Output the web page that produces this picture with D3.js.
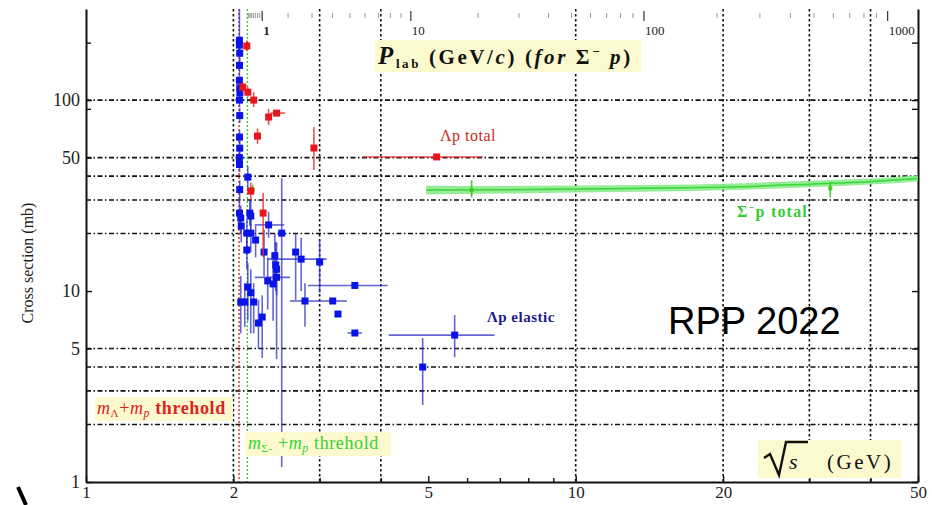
<!DOCTYPE html>
<html>
<head>
<meta charset="utf-8">
<script src="https://cdn.jsdelivr.net/npm/d3@7"></script>
<style>
  body { margin: 0; background: #fff; }
  svg { display: block; font-family: "Liberation Serif", "DejaVu Serif", serif; }
</style>
</head>
<body>
<div id="chart"></div>
<script>
// masses (GeV) for the top P_lab axis and thresholds
const massSigma = 1.1974, massProton = 0.9383, massLambda = 1.1157;

// bottom axis (sqrt s) and left axis (mb)
const sqrtSTicks = [1, 2, 5, 10, 20, 50];
const sqrtSMinor = [3, 4, 6, 7, 8, 9, 30, 40];
const sigmaTicks = [1, 5, 10, 50, 100];
const sigmaMinor = [90, 200];
const gridSqrtS = [2, 3, 4, 10, 20, 30, 40];
const gridSigma = [2, 3, 4, 5, 20, 30, 40, 50, 100];
const plabMajor = [1, 10, 100, 1000];
const plabMinor = [0.2, 0.3, 0.4, 0.5, 0.6, 0.7, 0.8, 0.9, 2, 3, 4, 5, 6, 7, 8, 9,
  20, 30, 40, 50, 60, 70, 80, 90, 200, 300, 400, 500, 600, 700, 800, 900];

// [sqrt s, sigma, sigma low, sigma high, sqrt s low, sqrt s high]
const lambdaElastic = [
  [2.057, 206, 180, 300], [2.057, 194, 175, 215], [2.060, 176, 160, 195],
  [2.058, 152, 140, 165], [2.057, 127, 115, 140], [2.060, 116, 106, 127],
  [2.062, 109, 100, 118], [2.058, 100, 92, 110], [2.060, 83, 76, 91],
  [2.058, 64, 59, 70], [2.060, 56, 52, 61], [2.057, 50, 46, 54],
  [2.058, 46, 42, 50], [2.060, 34, 30, 38], [2.058, 25.6, 22, 30],
  [2.07, 24.1, 20, 28], [2.075, 21.9, 18, 26], [2.14, 39.5, 34, 45],
  [2.16, 25.6, 22, 30], [2.17, 24.7, 21, 30], [2.17, 20.1, 16, 24],
  [2.13, 20.1, 17, 24], [2.22, 18.5, 15, 22], [2.13, 16.4, 13, 20],
  [2.31, 16.0, 12, 21], [2.36, 22.2, 19, 26, 2.21, 2.54], [2.51, 20.1, 1.2, 39],
  [2.43, 15.3, 11, 20], [2.45, 13.0, 4.4, 18], [2.44, 13.7, 10, 18],
  [2.45, 11.8, 9.5, 14, 2.21, 2.61], [2.35, 11.3, 8, 15], [2.41, 10.9, 7, 16],
  [2.68, 16.0, 9, 20], [2.75, 14.7, 10, 19, 2.35, 3.10], [3.00, 14.2, 9.8, 18.5],
  [3.54, 10.7, null, null, 2.84, 4.13], [2.80, 8.87, 6.5, 11, 2.61, 3.0],
  [3.19, 8.87, null, null, 3.0, 3.41], [3.27, 7.58], [3.54, 6.03, null, null, 3.42, 3.66],
  [2.14, 10.5, 7, 14], [2.17, 9.8, 6, 13], [2.11, 8.76, 6.5, 11],
  [2.07, 8.76, 6, 12], [2.20, 8.76, 6, 11], [2.29, 7.31, 4.46, 9.5],
  [2.25, 6.80, 5, 9], [5.66, 5.88, 4.51, 7.49, 4.15, 6.83], [4.87, 4.0, 2.53, 5.67]
];

const lambdaTotal = [
  [2.13, 192, 180, 205], [2.09, 117, 110, 124], [2.14, 110, 104, 117],
  [2.20, 100, 92, 110], [2.36, 81.5, 74, 90], [2.45, 85.5, 83, 88, 2.38, 2.55],
  [2.24, 64.8, 59, 71], [2.92, 56.1, 43, 72.2], [2.17, 33.4, 30, 37],
  [2.30, 25.6, 15.1, 32.6], [5.20, 50.4, null, null, 3.68, 6.46]
];

// Sigma- p total: band from fits, plus a few points
const sigmaBandS = [4.95, 7, 10, 15, 20, 30, 40, 50];
const sigmaBandMid = [33.8, 33.9, 34.2, 34.6, 35.0, 36.3, 37.4, 38.8];
const sigmaBandLo = [32.0, 32.4, 32.8, 33.2, 33.7, 35.0, 36.1, 37.5];
const sigmaBandHi = [35.6, 35.5, 35.7, 36.0, 36.5, 37.8, 38.9, 40.4];
const sigmaTotal = [[2.19, 34, 32, 36], [6.13, 33.8, 31, 38], [33.1, 34.5, 31, 37.2]];

const width = 932, height = 505;

let x = d3.scaleLog().domain([1, 50]).range([86, 918]);
let y = d3.scaleLog().domain([1, 300]).range([482, 9]);

function plabToSqrtS(p) {
  let e = Math.sqrt(p * p + massSigma * massSigma);
  return Math.sqrt(massSigma * massSigma + massProton * massProton + 2 * massProton * e);
}

let svg = d3.select("#chart").append("svg")
  .attr("width", width)
  .attr("height", height);

svg.append("rect").attr("width", width).attr("height", height).attr("fill", "#fff");

/* Сетка */
svg.append("g").selectAll("line")
  .data(gridSqrtS)
  .enter().append("line")
  .attr("x1", d => x(d)).attr("x2", d => x(d))
  .attr("y1", y(300)).attr("y2", y(1))
  .attr("stroke", "#111").attr("stroke-width", 1.6)
  .attr("stroke-dasharray", "2.5,2.5");

svg.append("g").selectAll("line")
  .data(gridSigma)
  .enter().append("line")
  .attr("x1", x(1)).attr("x2", x(50))
  .attr("y1", d => y(d)).attr("y2", d => y(d))
  .attr("stroke", "#111").attr("stroke-width", 1.6)
  .attr("stroke-dasharray", "5,2.5,1.5,2.5");

// thresholds
let thresholds = [
  { v: massLambda + massProton, c: "#e03030" },
  { v: massSigma + massProton, c: "#30d030" }
];
svg.append("g").selectAll("line")
  .data(thresholds)
  .enter().append("line")
  .attr("x1", d => x(d.v)).attr("x2", d => x(d.v))
  .attr("y1", y(300)).attr("y2", y(1))
  .attr("stroke", d => d.c).attr("stroke-width", 1.4)
  .attr("stroke-dasharray", "2,2");

/* Оси */
let bottomAxis = d3.axisBottom(x)
  .tickValues(sqrtSTicks)
  .tickFormat(d3.format("d"))
  .tickSizeInner(-6).tickSizeOuter(0).tickPadding(4);
let gb = svg.append("g").attr("transform", "translate(0," + y(1) + ")").call(bottomAxis);
gb.selectAll("text").attr("font-size", 17).style("font-family", "Liberation Serif").attr("fill", "#222");

svg.append("g").attr("transform", "translate(0," + y(1) + ")")
  .call(d3.axisBottom(x).tickValues(sqrtSMinor).tickFormat("").tickSizeInner(-4).tickSizeOuter(0))
  .select(".domain").remove();

let leftAxis = d3.axisLeft(y)
  .tickValues(sigmaTicks)
  .tickFormat(d3.format("d"))
  .tickSizeInner(-6).tickSizeOuter(0).tickPadding(6);
let gl = svg.append("g").attr("transform", "translate(" + x(1) + ",0)").call(leftAxis);
gl.selectAll("text").attr("font-size", 18).style("font-family", "Liberation Serif").attr("fill", "#222");

svg.append("g").attr("transform", "translate(" + x(1) + ",0)")
  .call(d3.axisLeft(y).tickValues(sigmaMinor).tickFormat("").tickSizeInner(-5).tickSizeOuter(0))
  .select(".domain").remove();

svg.append("g").attr("transform", "translate(" + x(50) + ",0)")
  .call(d3.axisRight(y).tickValues(sigmaTicks.concat(sigmaMinor)).tickFormat("").tickSizeInner(-6).tickSizeOuter(0));

svg.selectAll(".domain").attr("stroke", "#111").attr("stroke-width", 2);
svg.selectAll(".tick line").attr("stroke", "#111").attr("stroke-width", 1.4);

// top axis: P_lab for Sigma- p
let topY = y(300);
svg.append("g").selectAll("line")
  .data(plabMinor)
  .enter().append("line")
  .attr("x1", d => x(plabToSqrtS(d))).attr("x2", d => x(plabToSqrtS(d)))
  .attr("y1", topY + 4).attr("y2", topY + 9)
  .attr("stroke", "#999").attr("stroke-width", 1);
svg.append("g").selectAll("line")
  .data(plabMajor)
  .enter().append("line")
  .attr("x1", d => x(plabToSqrtS(d))).attr("x2", d => x(plabToSqrtS(d)))
  .attr("y1", topY + 2).attr("y2", topY + 12)
  .attr("stroke", "#333").attr("stroke-width", 1.2);
svg.append("g").selectAll("text")
  .data(plabMajor)
  .enter().append("text")
  .attr("x", d => x(plabToSqrtS(d)) + 1)
  .attr("y", 35)
  .attr("font-size", 13)
  .attr("font-weight", d => d === 1 ? "bold" : "normal")
  .attr("fill", "#222")
  .text(d => d);

/* Σ⁻p total */
let band = sigmaBandS.map((s, i) => ({ s: s, lo: sigmaBandLo[i], hi: sigmaBandHi[i], mid: sigmaBandMid[i] }));
svg.append("path")
  .datum(band)
  .attr("fill", "#8cea8c")
  .attr("opacity", 0.9)
  .attr("d", d3.area().x(d => x(d.s)).y0(d => y(d.lo)).y1(d => y(d.hi)).curve(d3.curveMonotoneX));
svg.append("path")
  .datum(band)
  .attr("fill", "none")
  .attr("stroke", "#3ad63a")
  .attr("stroke-width", 1.5)
  .attr("d", d3.line().x(d => x(d.s)).y(d => y(d.mid)).curve(d3.curveMonotoneX));

function drawPoints(data, color, errColor, size) {
  let g = svg.append("g");
  data.forEach(function(d) {
    if (d[2] != null) {
      g.append("line")
        .attr("x1", x(d[0])).attr("x2", x(d[0]))
        .attr("y1", y(d[2])).attr("y2", y(d[3]))
        .attr("stroke", errColor).attr("stroke-width", 1.6);
    }
    if (d[4] != null) {
      g.append("line")
        .attr("x1", x(d[4])).attr("x2", x(d[5]))
        .attr("y1", y(d[1])).attr("y2", y(d[1]))
        .attr("stroke", errColor).attr("stroke-width", 1.6);
    }
  });
  g.selectAll("rect")
    .data(data)
    .enter().append("rect")
    .attr("x", d => x(d[0]) - size / 2)
    .attr("y", d => y(d[1]) - size / 2)
    .attr("width", size).attr("height", size)
    .attr("fill", color);
}

drawPoints(sigmaTotal, "#44cc22", "#44cc22", 4);
drawPoints(lambdaElastic, "#0a14e6", "rgba(50,50,200,0.75)", 7);
drawPoints(lambdaTotal, "#e8141e", "rgba(230,40,40,0.8)", 7);

/* Подписи */
function labelBox(bx, by, bw, bh) {
  svg.append("rect").attr("x", bx).attr("y", by).attr("width", bw).attr("height", bh).attr("fill", "#fcf9cf");
}

// P_lab title
labelBox(375, 40, 266, 32);
let plab = svg.append("text").attr("x", 378).attr("y", 64).attr("font-size", 21)
  .attr("font-weight", "bold").attr("letter-spacing", 2.6).attr("fill", "#111");
plab.append("tspan").attr("font-style", "italic").attr("font-size", 25).text("P");
plab.append("tspan").attr("font-size", 13).attr("dy", 4).text("lab");
plab.append("tspan").attr("dy", -4).text(" (GeV/");
plab.append("tspan").attr("font-style", "italic").text("c");
plab.append("tspan").text(") (");
plab.append("tspan").attr("font-style", "italic").text("for");
plab.append("tspan").text(" Σ");
plab.append("tspan").attr("font-size", 13).attr("dy", -8).text("−");
plab.append("tspan").attr("dy", 8).attr("font-style", "italic").text(" p");
plab.append("tspan").text(")");

// sqrt s title
labelBox(758, 440, 143, 38);
svg.append("path")
  .attr("d", "M764,458 L770,454 L779,475 L786,442 L808,442")
  .attr("fill", "none").attr("stroke", "#111").attr("stroke-width", 2.4);
svg.append("text").attr("x", 789).attr("y", 469).attr("font-size", 22).attr("font-style", "italic").attr("fill", "#111").text("s");
svg.append("text").attr("x", 827).attr("y", 469).attr("font-size", 21).attr("letter-spacing", 2.5).attr("fill", "#111").text("(GeV)");

// y title
svg.append("text")
  .attr("transform", "translate(33,263) rotate(-90)")
  .attr("text-anchor", "middle")
  .attr("font-size", 16)
  .attr("fill", "#222")
  .text("Cross section (mb)");

// thresholds
labelBox(95, 397, 138, 24);
let tl = svg.append("text").attr("x", 97).attr("y", 414).attr("font-size", 18).attr("letter-spacing", 0.6).attr("fill", "#dd2222");
tl.append("tspan").attr("font-style", "italic").text("m");
tl.append("tspan").attr("font-size", 11).attr("dy", 3).text("Λ");
tl.append("tspan").attr("dy", -3).text("+");
tl.append("tspan").attr("font-style", "italic").text("m");
tl.append("tspan").attr("font-size", 12).attr("font-style", "italic").attr("dy", 3).text("p");
tl.append("tspan").attr("dy", -3).attr("font-weight", "bold").text(" threhold");

labelBox(245, 432, 146, 24);
let ts = svg.append("text").attr("x", 248).attr("y", 449).attr("font-size", 18).attr("letter-spacing", 0.6).attr("fill", "#33d433");
ts.append("tspan").attr("font-style", "italic").text("m");
ts.append("tspan").attr("font-size", 11).attr("dy", 3).text("Σ-");
ts.append("tspan").attr("dy", -3).text(" +");
ts.append("tspan").attr("font-style", "italic").text("m");
ts.append("tspan").attr("font-size", 12).attr("font-style", "italic").attr("dy", 3).text("p");
ts.append("tspan").attr("dy", -3).text(" threhold");

// series labels
svg.append("text").attr("x", 440).attr("y", 141).attr("font-size", 16).attr("letter-spacing", 0.5).attr("fill", "#cc2a1a").text("Λp total");
let st = svg.append("text").attr("x", 737).attr("y", 217).attr("font-size", 16).attr("letter-spacing", 1.2)
  .attr("font-weight", "bold").attr("fill", "#33cc33");
st.append("tspan").text("Σ");
st.append("tspan").attr("font-size", 10).attr("dy", -6).text("−");
st.append("tspan").attr("dy", 6).text("p total");
svg.append("text").attr("x", 487).attr("y", 322).attr("font-size", 15).attr("letter-spacing", 0.5)
  .attr("font-weight", "bold").attr("fill", "#1c1c8c").text("Λp elastic");

svg.append("text")
  .attr("x", 668).attr("y", 334)
  .style("font-family", "'Liberation Sans', Arial, sans-serif")
  .attr("font-size", 38)
  .attr("fill", "#000")
  .text("RPP 2022");

// scan artefact at lower left
svg.append("path").attr("d", "M18,487 L26,505").attr("stroke", "#000").attr("stroke-width", 4);
</script>
</body>
</html>
